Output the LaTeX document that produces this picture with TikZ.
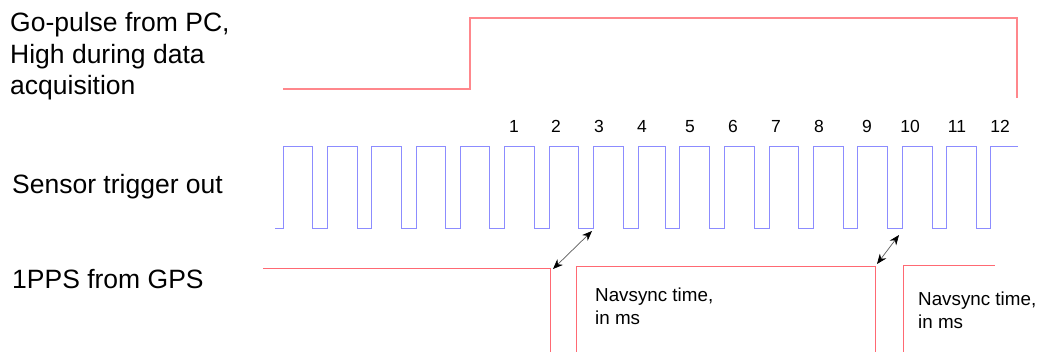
\documentclass[tikz,border=0pt]{standalone}
\usepackage{fontspec}
\setmainfont{Liberation Sans}
\usetikzlibrary{arrows.meta}
\definecolor{gored}{RGB}{255,135,140}
\definecolor{ppsred}{RGB}{255,105,115}
\definecolor{trigblue}{RGB}{140,140,255}
\definecolor{arrgray}{RGB}{90,90,90}
\tikzset{
  lbl/.style={inner sep=0pt, anchor=base west, font=\fontsize{26.5}{31.5}\selectfont, align=left},
  num/.style={inner sep=0pt, anchor=base, font=\fontsize{17.5}{20}\selectfont},
  navtxt/.style={inner sep=0pt, anchor=base west, font=\fontsize{18.8}{23}\selectfont, align=left},
  gosig/.style={draw=gored, line width=1.2pt},
  ppssig/.style={draw=ppsred, line width=0.85pt},
  trigsig/.style={draw=trigblue, line width=0.85pt},
  delay/.style={draw=arrgray, line width=0.7pt, {Stealth[length=10pt,width=8pt,color=black]}-{Stealth[length=10pt,width=8pt,color=black]}}
}
\begin{document}
\begin{tikzpicture}[x=1pt,y=-1pt]
\useasboundingbox (0,0) rectangle (1041,352);
% labels (base anchor = last line's baseline)
\node[lbl] (go) at (10,95) {Go-pulse from PC,\\High during data\\acquisition};
\node[lbl] (trig) at (12,193.3) {Sensor trigger out};
\node[lbl] (pps) at (12,288.3) {1PPS from GPS};
% go pulse
\path[gosig] (283,89) -- (470,89) -- (470,18) -- (1017,18) -- (1017,98);
% sensor trigger
\path[trigsig] (275,228) -- (283,228) -- (283,146) -- (312,146) -- (312,228) -- (327,228) -- (327,146) -- (357,146) -- (357,228) -- (371,228) -- (371,146) -- (401,146) -- (401,228) -- (416,228) -- (416,146) -- (445,146) -- (445,228) -- (460,228) -- (460,146) -- (489,146) -- (489,228) -- (504,228) -- (504,146) -- (534,146) -- (534,228) -- (549,228) -- (549,146) -- (578,146) -- (578,228) -- (593,228) -- (593,146) -- (623,146) -- (623,228) -- (638,228) -- (638,146) -- (665,146) -- (665,228) -- (679,228) -- (679,146) -- (709,146) -- (709,228) -- (724,228) -- (724,146) -- (754,146) -- (754,228) -- (769,228) -- (769,146) -- (798,146) -- (798,228) -- (813,228) -- (813,146) -- (843,146) -- (843,228) -- (857,228) -- (857,146) -- (887,146) -- (887,228) -- (902,228) -- (902,146) -- (932,146) -- (932,228) -- (946,228) -- (946,146) -- (976,146) -- (976,228) -- (990,228) -- (990,146) -- (1018,146);
% pulse numbers
\node[num] (n1) at (514,132.7) {1};
\node[num] (n2) at (556,132.7) {2};
\node[num] (n3) at (599,132.7) {3};
\node[num] (n4) at (642,132.7) {4};
\node[num] (n5) at (690,132.7) {5};
\node[num] (n6) at (733,132.7) {6};
\node[num] (n7) at (776,132.7) {7};
\node[num] (n8) at (819,132.7) {8};
\node[num] (n9) at (867,132.7) {9};
\node[num] (n10) at (910,132.7) {10};
\node[num] (n11) at (957,132.7) {11};
\node[num] (n12) at (1000,132.7) {12};
% 1PPS
\path[ppssig] (263,268) -- (550.5,268) -- (550.5,352);
\path[ppssig] (576,352) -- (576,266) -- (875,266) -- (875,352);
\path[ppssig] (903,352) -- (903,265) -- (995,265);
\node[navtxt] (nav1) at (595,325) {Navsync time,\\in ms};
\node[navtxt] (nav2) at (918,329) {Navsync time,\\in ms};
% delay arrows
\coordinate (a1s) at (553,269);
\coordinate (a1e) at (592,231);
\coordinate (a2s) at (877,264);
\coordinate (a2e) at (899,235);
\draw[delay] (a1s) -- (a1e);
\draw[delay] (a2s) -- (a2e);
\end{tikzpicture}
\end{document}
